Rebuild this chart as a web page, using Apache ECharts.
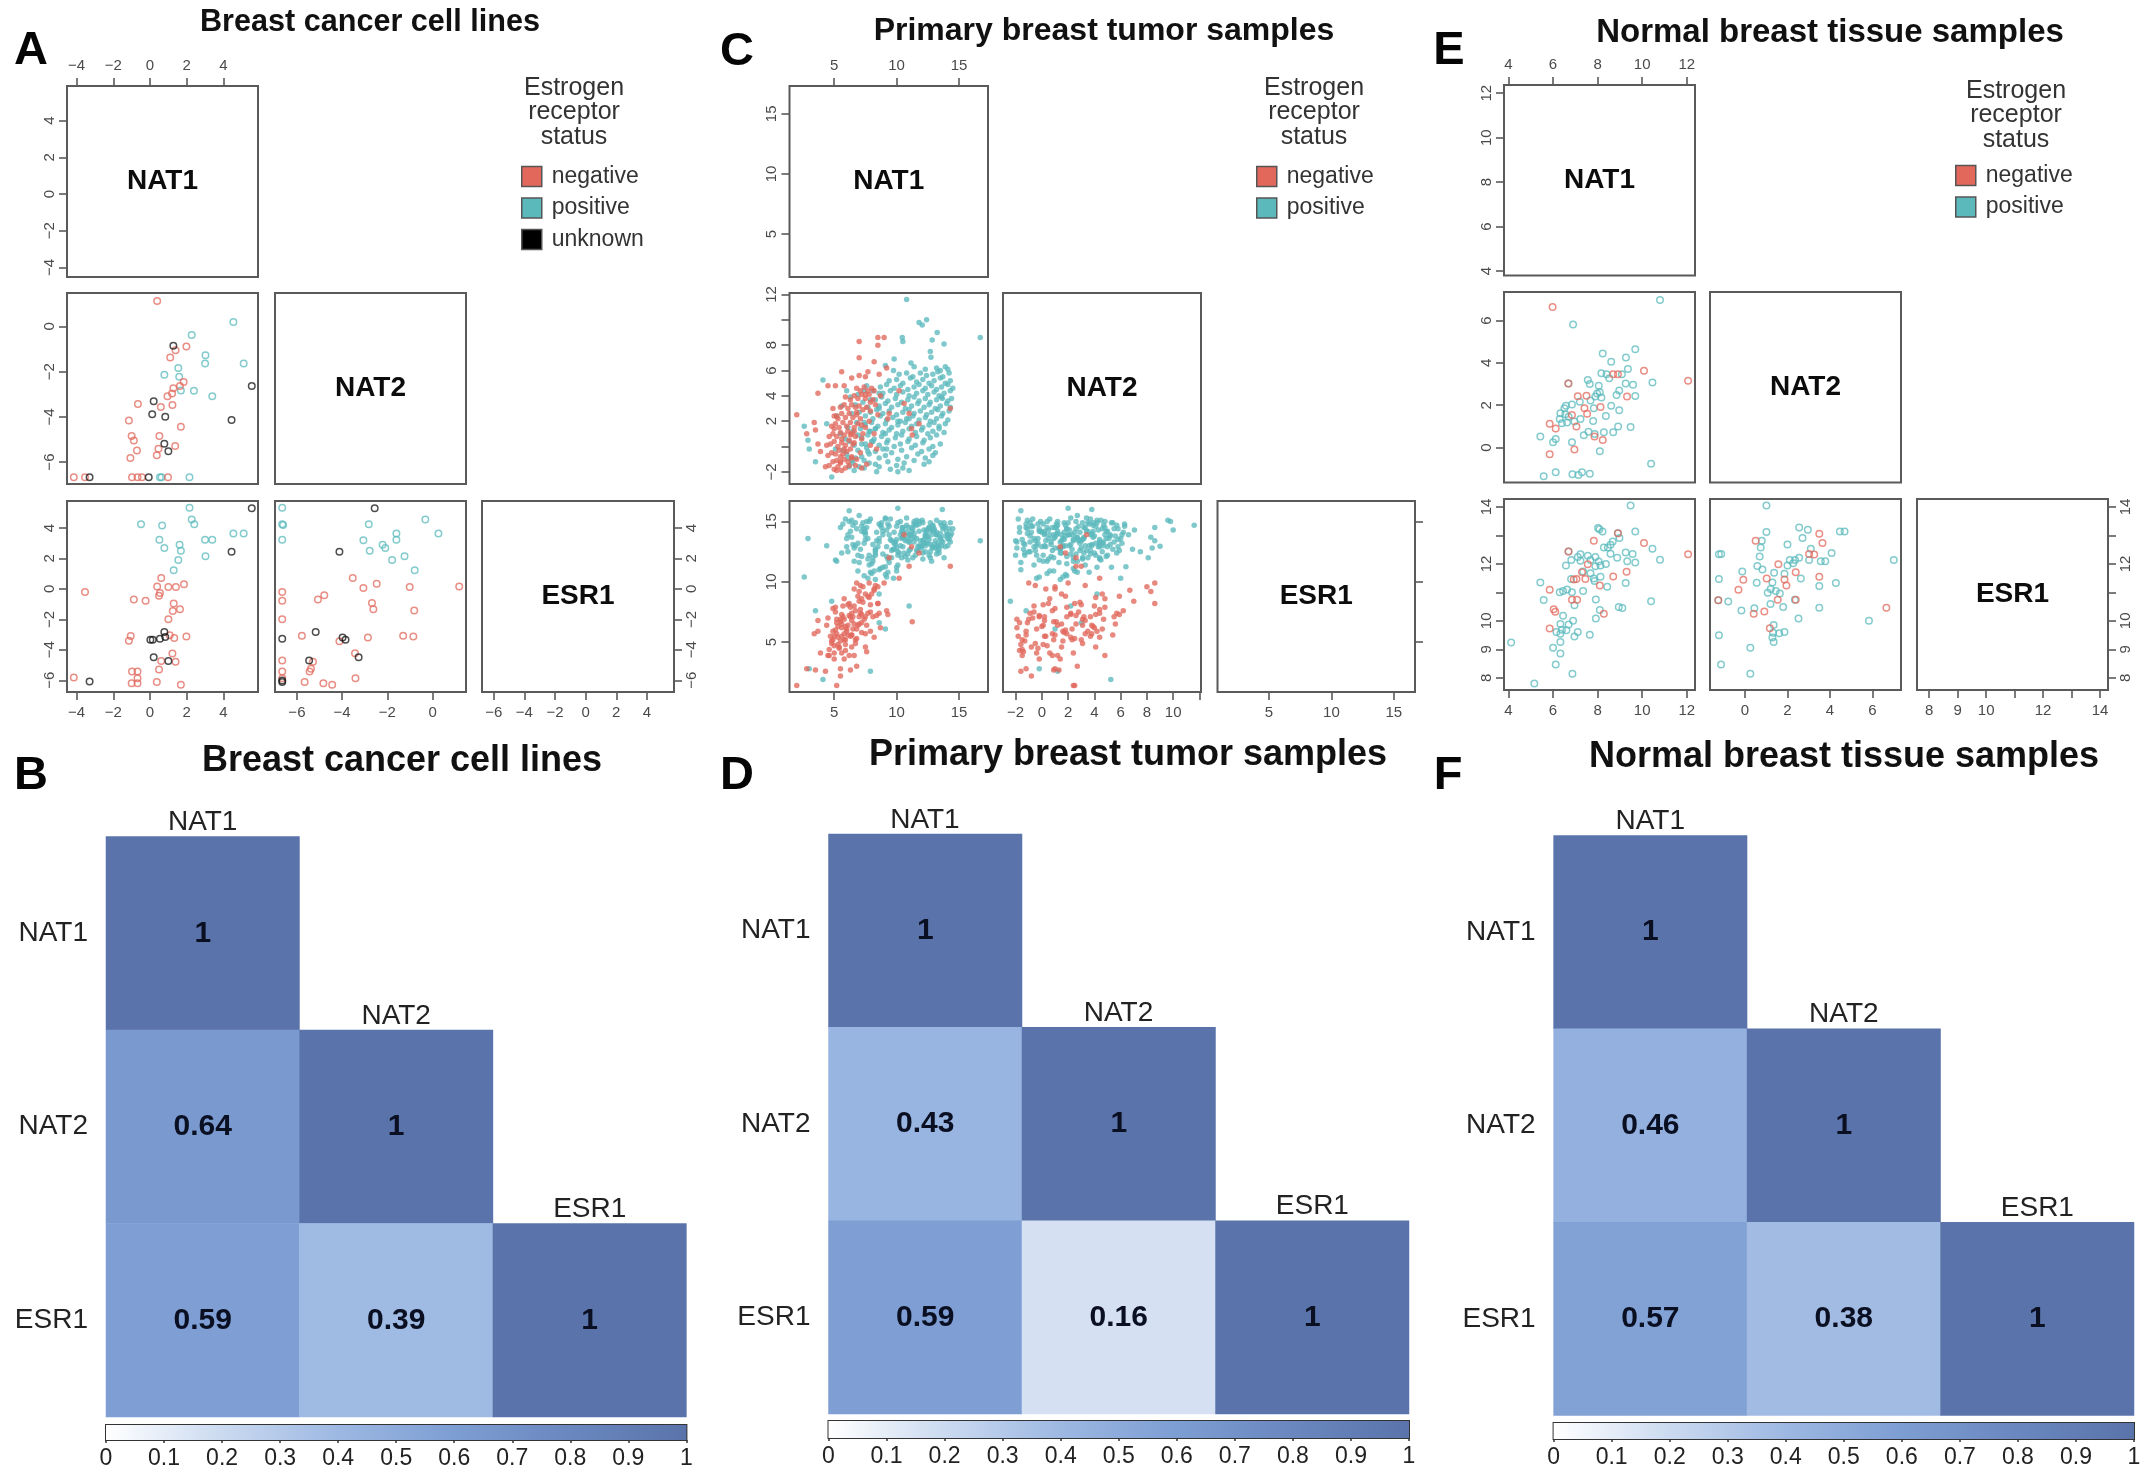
<!DOCTYPE html>
<html><head><meta charset="utf-8">
<style>html,body{margin:0;padding:0;background:#fff}#c{width:2150px;height:1481px}</style>
<script src="https://cdn.jsdelivr.net/npm/echarts@6/dist/echarts.min.js"></script>
</head><body><div id="c"></div>
<script>
// ---------- Panel A: cell lines, points read per scatter panel ----------
const A_NAT2_NAT1_neg=[[.39,1.13],[1.98,-.89],[1.39,-1.05],[1.1,-1.37],[1.83,-2.46],[1.63,-2.63],[1.27,-2.73],[1.2,-2.97],[.95,-3.09],[1.22,-3.47],[.59,-3.56],[-.66,-3.43],[-1.15,-4.16],[1.68,-4.44],[-1,-4.85],[-.88,-5.05],[.51,-4.85],[1.37,-5.29],[.46,-5.41],[-.71,-5.49],[.37,-5.7],[-1.07,-5.82],[-4.15,-6.67],[-3.54,-6.67],[-.98,-6.67],[-.68,-6.67],[-.44,-6.67],[.98,-6.67]];
const A_NAT2_NAT1_pos=[[4.54,.2],[2.27,-.38],[3.02,-1.27],[3,-1.64],[5.1,-1.64],[1.54,-1.84],[1.59,-2.22],[.78,-2.14],[1.68,-2.83],[2.39,-2.85],[3.39,-3.09],[.54,-6.67],[.63,-6.67],[2.15,-6.67]];
const A_NAT2_NAT1_unk=[[1.27,-.85],[5.54,-2.63],[.2,-3.31],[.12,-3.88],[.83,-4],[4.44,-4.14],[.78,-5.19],[1,-5.52],[-3.29,-6.67],[-.07,-6.67]];
const A_ESR1_NAT1_neg=[[.61,.72],[-3.54,-.21],[.39,.15],[1,.12],[1.41,.12],[1.85,.3],[.54,-.27],[.49,-.45],[-.88,-.69],[-.24,-.78],[1.29,-.96],[1.24,-1.45],[1.63,-1.33],[1,-1.99],[-1.05,-3.1],[-1.15,-3.4],[1.07,-3.04],[1.32,-3.22],[1.98,-3.13],[1.22,-4.25],[.61,-4.73],[1.39,-4.79],[.49,-5.3],[-.98,-5.42],[-.68,-5.42],[-.68,-5.87],[-4.15,-5.81],[-1,-6.2],[-.68,-6.2],[.37,-6.11],[1.68,-6.3]];
const A_ESR1_NAT1_pos=[[2.15,5.33],[2.27,4.55],[2.41,4.25],[-.49,4.25],[.66,4.16],[4.54,3.64],[5.1,3.64],[.51,3.22],[3,3.22],[3.39,3.22],[1.61,2.89],[1.68,2.5],[.78,2.68],[3.02,2.14],[1.54,1.9],[1.29,1.23]];
const A_ESR1_NAT1_unk=[[5.54,5.3],[4.44,2.44],[.78,-2.83],[.02,-3.34],[.15,-3.34],[.54,-3.28],[.83,-3.16],[.2,-4.49],[1,-4.73],[-3.29,-6.08]];
const A_ESR1_NAT2_neg=[[-3.53,.72],[-2.47,.33],[-3.06,.06],[-1.01,.12],[1.18,.15],[-6.65,-.21],[-6.65,-.78],[-4.79,-.42],[-5.07,-.69],[-2.68,-.93],[-2.62,-1.33],[-.81,-1.42],[-6.65,-1.99],[-5.78,-3.07],[-4.12,-3.43],[-2.86,-3.19],[-1.3,-3.07],[-.85,-3.13],[-3.43,-4.22],[-6.65,-4.7],[-5.29,-4.79],[-5.38,-5.24],[-5.44,-5.42],[-6.65,-5.42],[-6.65,-5.87],[-3.41,-5.87],[-5.66,-6.11],[-4.83,-6.2],[-4.44,-6.3]];
const A_ESR1_NAT2_pos=[[-6.65,5.33],[-6.65,4.25],[-6.61,4.19],[-6.65,3.22],[-2.82,4.25],[-.32,4.55],[.26,3.64],[-1.6,3.64],[-1.6,3.22],[-3.06,3.19],[-2.21,2.89],[-2.09,2.68],[-2.78,2.5],[-1.24,2.14],[-1.79,1.9],[-.79,1.23]];
const A_ESR1_NAT2_unk=[[-2.56,5.3],[-4.12,2.44],[-5.17,-2.83],[-6.65,-3.28],[-3.98,-3.19],[-3.85,-3.34],[-3.27,-4.49],[-5.46,-4.7],[-6.65,-6.11],[-6.65,-6.02]];

// ---------- Panel C: primary tumours, one row per sample [NAT1, NAT2, ESR1] ----------
const C_pos=[[16.7,8.6,13.4],[10.8,11.6,14.7],[11.8,9.8,15],[12.05,9.6,15.1],[12.4,10,14.3],[10.45,8.6,14.5],[10.5,8.3,13.7],[13.25,9,12.95],[12.85,8.4,12.8],[13.8,8.1,12],[12.7,7.5,12.5],[12.75,7.05,14.3],[9.8,6.9,12.7],[9.1,6.4,11.25],[9.75,6,10.3],[11.15,6.6,13.9],[2.9,.5,13.6],[4.4,1.8,13],[5.1,-.2,11.8],[2.6,1.6,10.4],[11,2.2,8],[8.6,4.2,9],[8.6,3,6.6],[9.1,1,6.1],[3.5,-1.2,7.6],[4.1,5.25,1.9],[7.9,1.2,2.6],[4.8,-2.4,8.4],[3,-.2,2.8],[6.2,-1.6,15.9],[10.1,2,16.1],[13.66,3.8,16],
[11.4,6.3,14.8],[12.3,6.1,13.2],[13.2,6.2,14.1],[13.5,6,13.6],[13.9,6.3,14.6],[14.1,6.1,13.9],
[10.2,5.7,12.4],[10.8,5.8,13.5],[11.3,5.5,14.4],[11.9,5.8,12.9],[12.4,5.6,13.8],[12.9,5.7,14.7],[13.3,5.9,12.6],[13.7,5.5,13.3],[14.2,5.8,14.4],
[9.4,5.2,13.9],[10,5.3,11.2],[10.5,5,14.2],[11.1,5.4,12.7],[11.6,5.1,13.6],[12.1,5.3,14.9],[12.6,5,12.2],[13,5.2,13.1],[13.5,5.4,14.9],[13.9,5,12.9],[14.3,5.2,13.8],
[8.7,4.7,14.7],[9.2,4.9,12.1],[9.8,4.6,13.2],[10.3,4.8,15],[10.9,4.5,11.8],[11.4,4.7,13.3],[11.8,4.9,14.2],[12.3,4.6,12.5],[12.8,4.8,13.9],[13.2,4.5,15.1],[13.6,4.7,13],[14.1,4.9,13.6],[14.5,4.6,14.4],
[8.9,4.2,11.2],[9.5,4.4,13.5],[10,4.1,14.6],[10.5,4.3,12.9],[11,4,13.8],[11.6,4.2,15.1],[12.1,4.4,11.9],[12.5,4.1,13.2],[13,4.3,14.3],[13.4,4,12.4],[13.8,4.2,14.9],[14.3,4.4,13.3],
[8.3,3.7,12.6],[8.8,3.9,14.9],[9.3,3.6,10.8],[9.9,3.8,13.1],[10.4,3.5,14.2],[10.9,3.7,12.3],[11.4,3.9,13.7],[11.8,3.6,14.8],[12.3,3.8,13],[12.7,3.5,12],[13.2,3.7,13.9],[13.6,3.9,14.7],[14.1,3.6,13],[14.4,3.8,14],
[8.6,3.2,13.6],[9.1,3.4,15.3],[9.6,3.1,12],[10.1,3.3,11.4],[10.7,3,13.4],[11.2,3.2,14.5],[11.7,3.4,12.6],[12.2,3.1,13.5],[12.6,3.3,14.5],[13.1,3,12.8],[13.5,3.2,13.7],[14,3.4,14.2],[14.3,3.1,14.9],
[7.9,2.7,10.8],[8.4,2.9,14.1],[8.9,2.6,12.3],[9.4,2.8,14.6],[10,2.5,10.9],[10.5,2.7,13.7],[11,2.9,12.6],[11.4,2.6,15],[11.9,2.8,13.4],[12.4,2.5,14.1],[12.8,2.7,11.7],[13.3,2.9,13.2],[13.7,2.6,14.4],[14.2,2.8,13.5],
[8.1,2.2,13.1],[8.7,2.4,11.1],[9.2,2.1,14.3],[9.7,2.3,12.7],[10.3,2,13.9],[10.8,2.2,15.3],[11.3,2.4,12],[11.8,2.1,13],[12.3,2.3,13.9],[12.7,2,14.9],[13.2,2.2,12.3],[13.6,2.4,13.4],[14.1,2.1,13.9],
[7.5,1.7,14.1],[8,1.9,11.5],[8.5,1.6,12.9],[9.1,1.8,10.6],[9.6,1.5,13.4],[10.1,1.7,14.9],[10.7,1.9,12.1],[11.2,1.6,13.6],[11.6,1.8,14.7],[12.1,1.5,12.4],[12.6,1.7,13.5],[13,1.9,14.4],[13.4,1.6,13],[13.9,1.8,13.8],
[7.8,1.2,15],[8.3,1.4,12.4],[8.9,1.1,13.9],[9.4,1.3,11.6],[10,1,12.8],[10.5,1.2,14],[11,1.4,13.3],[11.5,1.1,14.8],[12,1.3,12.8],[12.5,1,13.7],[12.9,1.2,14.2],[13.4,1.4,12.7],[13.8,1.1,14.5],
[7.2,.7,12.1],[7.7,.9,13.6],[8.2,.6,10.9],[8.8,.8,14.5],[9.3,.5,11.9],[9.9,.7,13.3],[10.4,.9,12],[11,.6,13.9],[11.6,.8,12.6],[12.2,.5,14.3],[12.7,.7,13.1],[13.2,.9,13.9],
[7.5,.2,13.9],[8.1,.4,11.7],[8.6,.1,14.8],[9.2,.3,12.9],[9.8,0,14.1],[10.3,.2,13],[10.9,.4,14.5],[11.5,.1,12.2],[12.1,.3,13.4],[12.9,0,12.9],[13.5,.2,14],
[6.9,-.3,13.2],[7.6,-.1,15],[8.3,-.4,12.2],[8.9,-.2,14.2],[9.6,-.5,12.6],[10.4,-.3,13.6],[11.2,-.1,14.2],[12,-.4,13],[12.6,-.2,14.4],[13.1,-.5,13.4],
[7.2,-.8,14.6],[7.8,-.6,11.4],[8.6,-.9,13.3],[9.1,-.7,15.2],[10.1,-1,12.5],[10.8,-.8,14.1],[11.7,-.6,12.9],[12.3,-.9,13.8],[12.9,-.7,14.6],
[6.5,-1.3,13.1],[7.4,-1.1,14.4],[8.3,-1.4,12.7],[9.3,-1.2,14.8],[10,-1.5,13.5],[10.6,-1.3,12.4],[11.4,-1.1,14],[12.2,-1.4,13.2],[12.6,-1.2,14.5],
[6.6,-1.9,12.8],[7.4,-1.7,14.1],[8.4,-2,13.4],[9.5,-1.8,15.2],[10.1,-2,12.2],[10.5,-1.7,14.5],[11,-1.9,13.3],
[6.2,.4,15],[6.5,1.2,14.7],[6.8,1.9,14.4],[7,2.7,15.5],[7.2,.2,14.2],[6.4,2.6,13.7],[6.7,3.3,13],[7.3,3.5,14.9],[7.5,2.4,13.5],[6.1,1.5,13.9],[7.1,1.4,12.7],[6.9,4.1,12.2],[7.4,4.4,13.2],[7.7,3.1,11.9],[6.3,3.9,14.2],[7.6,4.8,14.5],[7.9,3.7,15.2],[8.1,4.4,12],[6.6,.1,11.7],[6.9,.9,10.9],[7.4,1.9,10.5],[7.7,-.4,10.3],[8,.4,10.7],[8.3,1.4,10.2],[6.7,-.9,14.9],[6,-.6,13.6],[6.4,-1.1,15.1],[5.7,-.3,14.8],[5.9,.6,15.2],[5.5,1,14.5],[6.1,-.9,12.5],[7,-1.6,11.6],[7.8,-1.3,12.2],[8.6,-1.6,11],[9.2,-.2,10.4],[5.2,2.4,11.7],[5.6,3.2,12.4],[6,4.4,12.9]];
const C_neg=[[2,2.5,1.4],[7,8.3,9.2],[8.5,8.6,8.2],[8.5,8,9.6],[7,7,8.4],[8.2,6.7,9.3],[5.6,5.9,7.3],[3.7,4.2,5.9],[4.5,4.8,3.9],[5.1,4.8,7.9],[5.8,4.8,8.6],[3.4,1.9,5.7],[2.8,1,2.8],[3.5,1.3,2.7],[3.7,.2,6.8],[3.9,-.4,4.1],
[11.25,.9,6.7],[14.3,3,11.3],[9.2,6.2,7.6],[8.6,5.7,7.4],[9,8.6,9.9],[8.2,4.4,5.4],[7.5,4.1,4.6],[4.3,-1.6,2.6],[5.5,-1.2,2.8],[5.5,-.8,2.2],[6.3,.9,2.7],[6.8,2.7,3],[5.2,2.4,1.4],
[5,-1.8,5.5],[5.3,-1.6,4.8],[5.6,-1.9,6.2],[5.9,-1.7,4.3],[6.2,-1.5,3.9],[4.6,-1.5,4.4],[4.9,-1.2,5.9],[5.2,-1.1,6.6],[5.5,-1.3,5.1],[5.8,-1,6.9],[6.1,-1.2,5.6],[6.4,-.9,7.4],[4.5,-.7,7],[4.8,-.5,4.9],[5.1,-.6,7.5],[5.4,-.3,4.5],[5.7,-.6,8],[6,-.4,6.1],[6.3,-.2,7.1],[6.7,-1.5,5.2],[7.2,-1.7,6.6],[7.6,-1.4,4.2],
[4.4,.1,6.4],[4.7,.2,5.5],[5,.4,4.7],[5.3,0,6.3],[5.6,.3,5.5],[5.9,.1,4.8],[6.2,.5,8.2],[6.5,.2,7.1],[4.6,.8,3.9],[4.9,1,7.8],[5.2,.8,5.7],[5.5,1.1,6.7],[5.8,.9,5.2],[6.1,1.2,6.4],[6.4,1,5.6],[6.7,.8,7.6],
[4.8,1.6,5.1],[5.1,1.8,6],[5.4,1.5,4.6],[5.7,1.9,7.1],[6,1.6,5.9],[6.3,1.9,7.9],[6.6,1.5,6.5],[6.9,1.8,8.8],[5,2.4,4.1],[5.3,2.2,5.4],[5.6,2.6,6.5],[5.9,2.3,5.2],[6.2,2.6,7.2],[6.5,2.3,6.1],[6.8,2.5,5.3],[7.1,2.2,7.4],[4.9,3,5.2],
[5.5,3.1,6.9],[5.8,3.3,5.7],[6.1,3,8.1],[6.4,3.3,6.8],[6.7,3.1,4.9],[7,3.2,7.1],[7.3,2.9,8.3],[7.6,3.1,6.4],[7.9,2.8,7.5],[5.9,3.9,6.3],[6.3,3.7,5.5],[6.6,4,8],[6.9,3.8,6.4],[7.2,4.1,7.3],[7.5,3.8,5.7],[7.8,4.1,8.7],[8.1,3.7,7.1],[6.8,4.6,6.1],[7.1,4.4,7.7],[7.4,4.7,6.9],[7.7,4.4,7.4],[8,4.6,9],[6.4,5.4,5.6],[7,5.6,6.5],[7.5,5.5,7.1],[7.7,5.9,8.8],[8.3,3.3,9.7],[8.5,2.5,8.2],[7.5,1.5,9],[7.2,.6,8.6],[7.8,2,9.9],[7.1,-.5,9.7],[6.8,-1,9.9],[6.6,.3,9.4],[7.3,1,9.6],[7.9,.1,8.1],[8.2,1,9.4],[8.4,-.2,7.2],[5.2,-1.9,6.9],[5.8,-.2,3.6],[6.4,-.8,4.6],[5,1.4,3.6],[6.6,1.2,3.9],[5.6,.6,4.1],[7.2,1.7,5.8],[7.9,3.5,5.9],[8.7,4,6.2],[9.3,2.2,7.3],[10.2,4.4,10.3],[11.2,1.4,12.9],[11.8,1.8,12.4],[11,2.6,11.3],[10.6,3.4,13.9],[9.4,2.6,12]];

// ---------- Panel E: normal tissue, points read per scatter panel ----------
const E_NAT2_NAT1_neg=[[5.98,6.64],[5.85,1.13],[6.12,.9],[5.85,-.31],[6.96,-.09],[6.69,3.03],[7.11,2.42],[7.5,2.45],[7.41,1.86],[7.53,1.6],[8.13,1.92],[7.05,.99],[6.85,1.54],[7.86,.52],[8.23,.36],[8.7,3.47],[8.91,3.47],[10.08,3.63],[12.06,3.16],[9.32,2.41]];
const E_NAT2_NAT1_pos=[[10.8,6.97],[6.9,5.82],[9.69,4.65],[8.23,4.45],[9.27,4.25],[8.61,4.06],[9.36,3.71],[8.17,3.51],[8.4,3.47],[9.09,3.47],[7.56,3.19],[7.65,3],[6.69,3.03],[8.52,3.27],[9.26,3.03],[9.59,2.97],[10.46,3.08],[8.05,2.92],[8.97,2.7],[8.85,2.48],[9.69,2.44],[7.98,2.56],[8.1,2.61],[7.9,2.41],[8.17,2.37],[7.2,2.17],[7.68,2.22],[6.85,2.04],[6.58,1.98],[6.51,1.86],[6.33,1.62],[6.55,1.57],[6.3,1.35],[6.7,1.46],[6.4,1.15],[6.63,1.19],[6.96,1.23],[7.23,1.35],[8.61,1.98],[8.97,1.76],[8.37,1.49],[7.8,1.26],[5.43,.52],[6.12,.41],[6,.25],[6.85,.25],[7.38,.58],[7.59,.75],[8.28,.72],[8.7,.72],[8.92,1],[9.48,.97],[8.1,-.17],[10.4,-.77],[6.12,-1.16],[5.58,-1.35],[6.87,-1.26],[7.14,-1.29],[7.3,-1.16],[7.65,-1.24],[7.87,.64],[7.83,1.86]];
const E_ESR1_NAT1_neg=[[7.83,12.81],[10.08,12.73],[12.06,12.34],[6.69,12.44],[7.56,11.99],[9.3,11.72],[8.7,11.56],[7.45,11.47],[7.05,11.47],[6.93,11.45],[8.1,11.24],[5.85,11.09],[6.85,10.74],[7.08,10.74],[6.03,10.41],[6.1,10.32],[8.28,10.25],[5.85,9.73],[7.3,11.71],[8.91,13.08]];
const E_ESR1_NAT1_pos=[[9.48,14.05],[8.02,13.26],[8.08,13.22],[8.22,13.14],[9.69,13.14],[8.68,12.79],[8.58,12.67],[8.91,13.08],[8.98,12.91],[8.28,12.58],[8.46,12.58],[10.46,12.53],[8.58,12.36],[8.88,12.22],[9.26,12.4],[9.57,12.35],[9.33,12.09],[9.69,12.05],[10.8,12.15],[7.23,12.34],[7.11,12.24],[6.82,12.14],[6.58,11.94],[7.56,12.29],[7.9,12.24],[7.68,12.14],[8.05,12.08],[8.37,12],[8.13,11.94],[7.9,11.92],[7.23,12.11],[6.7,12.44],[7.35,11.73],[7.68,11.67],[8.13,11.55],[7.83,11.49],[6.81,11.47],[5.43,11.35],[8.43,11.2],[9.26,11.33],[7.86,11.4],[6.3,11],[6.45,11.05],[6.63,11.1],[6.85,11],[7.35,11.05],[5.58,10.73],[7.92,10.75],[6.96,10.55],[8.95,10.49],[9.11,10.45],[10.4,10.69],[8.1,10.38],[6.45,10.18],[7.92,10.08],[6.33,9.89],[6.9,10],[6.7,9.87],[6.4,9.69],[6.15,9.61],[6.6,9.67],[6.33,9.55],[7.11,9.61],[6.96,9.45],[7.65,9.51],[6.33,9.26],[6,9.05],[6.33,8.85],[4.12,9.24],[6.12,8.47],[6.87,8.14],[5.16,7.8]];
const E_ESR1_NAT2_neg=[[.5,12.81],[3.5,13.06],[3.65,12.73],[3.02,12.35],[3.26,12.33],[1.57,11.99],[2.39,11.71],[3.5,11.55],[1.02,11.49],[-.08,11.44],[1.86,11.45],[1.95,11.24],[-.31,11.09],[1.54,10.74],[2.39,10.74],[-1.26,10.72],[.91,10.33],[.41,10.25],[6.66,10.46],[1.17,9.74]];
const E_ESR1_NAT2_pos=[[1.01,14.05],[1.01,13.12],[2.55,13.28],[2.96,13.2],[2.71,12.91],[4.47,13.14],[4.69,13.14],[.79,12.81],[.74,12.58],[2,12.68],[.69,12.26],[-1.23,12.34],[-1.12,12.35],[4.08,12.38],[3.1,12.53],[3.02,12.14],[3.57,12.09],[3.78,12.09],[7.01,12.14],[2.55,12.22],[2.36,12.14],[2.11,12.14],[2.27,12.02],[.58,11.93],[.82,11.8],[2,11.94],[1.37,11.69],[1.86,11.65],[2.63,11.49],[-.13,11.73],[-1.23,11.47],[.55,11.34],[1.29,11.35],[4.28,11.33],[3.5,11.22],[1.21,11.12],[1.07,10.99],[1.45,11.05],[1.64,10.96],[-.79,10.68],[-1.26,10.72],[2.35,10.74],[1.2,10.59],[1.8,10.49],[3.5,10.46],[.44,10.44],[-.17,10.36],[2.52,10.08],[5.84,10],[1.35,9.85],[1.32,9.58],[1.61,9.56],[1.86,9.61],[1.29,9.41],[1.35,9.26],[-1.23,9.49],[.25,9.05],[-1.13,8.47],[.25,8.14]];

// ---------- Heatmaps ----------
const genes=['NAT1','NAT2','ESR1'];
const B_corr=[1,.64,1,.59,.39,1];
const D_corr=[1,.43,1,.59,.16,1];
const F_corr=[1,.46,1,.57,.38,1];
const colorbarTicks=[0,.1,.2,.3,.4,.5,.6,.7,.8,.9,1];
const colorRamp=['#ffffff','#cbdaf0','#9db8e2','#7d9ed3','#6a87bf','#5a74ab'];

// ---------- Axis ranges and ticks ----------
const A_ranges=[[-4.52,5.88],[-6.97,1.48],[-6.77,5.77]];
const C_ranges=[[1.42,17.32],[-2.96,12.12],[.87,16.7]];
const E_ranges=[[3.8,12.37],[-1.65,7.35],[7.57,14.28]];
const A_ticks=[[-4,-2,0,2,4],[-6,-4,-2,0],[-6,-4,-2,0,2,4]];
const C_ticks=[[5,10,15],[-2,0,2,4,6,8,10,12],[5,10,15]];
const C_xLabels=[[5,10,15],[-2,0,2,4,6,8,10],[5,10,15]];
const C_yLabels=[[5,10,15],[-2,2,4,6,8,12],[5,10,15]];
const E_ticks=[[4,6,8,10,12],[0,2,4,6],[8,9,10,11,12,13,14]];
const E_labels=[[4,6,8,10,12],[0,2,4,6],[8,9,10,12,14]];

// ---------- Layout ----------
const FONT='"Liberation Sans",Arial,sans-serif';
const NEG='#e2685c',POS='#5bb9bc',UNK='#111111';
const AXC='#5a5a5a',TICKTXT='#4a4a4a';
const idx=(a,i,j)=>a.map(s=>[s[i],s[j]]);
const figures=[
 {cols:[[67,258],[275,466],[482,674]],rows:[[86,277],[293,484],[501,692]],ranges:A_ranges,tx:A_ticks,xl:A_ticks,yl:A_ticks,rightLabels:true,hollow:true,
  data:{'1,0':[['positive',A_NAT2_NAT1_pos],['negative',A_NAT2_NAT1_neg],['unknown',A_NAT2_NAT1_unk]],
        '2,0':[['positive',A_ESR1_NAT1_pos],['negative',A_ESR1_NAT1_neg],['unknown',A_ESR1_NAT1_unk]],
        '2,1':[['positive',A_ESR1_NAT2_pos],['negative',A_ESR1_NAT2_neg],['unknown',A_ESR1_NAT2_unk]]}},
 {cols:[[789.5,988],[1003,1201],[1217.5,1415]],rows:[[86,277],[293,484],[501,692]],ranges:C_ranges,tx:C_ticks,xl:C_xLabels,yl:C_yLabels,rightLabels:false,hollow:false,
  data:{'1,0':[['positive',idx(C_pos,0,1)],['negative',idx(C_neg,0,1)]],
        '2,0':[['positive',idx(C_pos,0,2)],['negative',idx(C_neg,0,2)]],
        '2,1':[['positive',idx(C_pos,1,2)],['negative',idx(C_neg,1,2)]]}},
 {cols:[[1504,1695],[1710,1901],[1917,2108]],rows:[[85,275.5],[292,482.5],[499,690]],ranges:E_ranges,tx:E_ticks,xl:E_labels,yl:E_labels,rightLabels:true,hollow:true,
  data:{'1,0':[['positive',E_NAT2_NAT1_pos],['negative',E_NAT2_NAT1_neg]],
        '2,0':[['positive',E_ESR1_NAT1_pos],['negative',E_ESR1_NAT1_neg]],
        '2,1':[['positive',E_ESR1_NAT2_pos],['negative',E_ESR1_NAT2_neg]]}}
];
const heats=[
 {x:[106,299.4,493,686.4],y:[836.5,1030,1223,1417],bar:[1425,1440],corr:B_corr},
 {x:[828.5,1021.4,1215.7,1409],y:[834,1027,1220.5,1414],bar:[1421,1438],corr:D_corr},
 {x:[1553.6,1747,1940.7,2134],y:[835.5,1028.7,1222.4,1415.6],bar:[1423,1439],corr:F_corr}
];
const grid=[],xAxis=[],yAxis=[],series=[],graphic=[];
const minus=v=>String(v).replace('-','\u2212');
function txt(text,x,y,size,weight,fill,align){
 graphic.push({type:'text',silent:true,x:x,y:y,style:{text:text,fontFamily:FONT,fontSize:size,fontWeight:weight||'normal',fill:fill||'#111',align:align||'center',verticalAlign:'middle'}});
}
function axis(kind,pos,g,range,ticks,labels,showLabel){
 const isY=kind==='y';
 return {type:'value',gridIndex:g,position:pos,min:range[0],max:range[1],scale:true,splitLine:{show:false},
  axisLine:{show:false,onZero:false},
  axisTick:{show:true,length:8,customValues:ticks,lineStyle:{color:AXC,width:1.6}},
  axisLabel:{show:showLabel,customValues:labels,rotate:isY?90:0,margin:isY?10:13,fontSize:15,color:TICKTXT,fontFamily:FONT,hideOverlap:false,formatter:minus}};
}
function hiddenAxis(pos,g,range){return {type:'value',gridIndex:g,position:pos,min:range[0],max:range[1],show:false};}
figures.forEach(f=>{
 for(let r=0;r<3;r++)for(let c=0;c<=r;c++){
  const g=grid.length;
  grid.push({left:f.cols[c][0],top:f.rows[r][0],width:f.cols[c][1]-f.cols[c][0],height:f.rows[r][1]-f.rows[r][0],show:true,borderColor:AXC,borderWidth:2,backgroundColor:'#fff',containLabel:false});
  const xi=xAxis.length,yi=yAxis.length;
  // primary x axis
  if(r===2)xAxis.push(axis('x','bottom',g,f.ranges[c],f.tx[c],f.xl[c],true));
  else if(r===0)xAxis.push(axis('x','top',g,f.ranges[c],f.tx[c],f.xl[c],true));
  else xAxis.push(hiddenAxis('bottom',g,f.ranges[c]));
  // primary y axis
  if(c===0)yAxis.push(axis('y','left',g,f.ranges[r],f.tx[r],f.yl[r],true));
  else if(r===2&&c===2)yAxis.push(axis('y','right',g,f.ranges[r],f.tx[r],f.yl[r],f.rightLabels));
  else yAxis.push(hiddenAxis('left',g,f.ranges[r]));
  const list=f.data[r+','+c];
  if(list)list.forEach(([name,pts])=>{
   const col=name==='negative'?NEG:name==='positive'?POS:UNK;
   series.push({type:'scatter',name:name,xAxisIndex:xi,yAxisIndex:yi,data:pts,silent:true,animation:false,
    symbol:'circle',symbolSize:f.hollow?6.5:5.5,
    itemStyle:f.hollow?{color:'rgba(255,255,255,0)',borderColor:col,borderWidth:1.5,opacity:name==='unknown'?.75:.75}:{color:col,opacity:.78,borderWidth:0}});
  });
  if(r===c)txt(genes[r],(f.cols[c][0]+f.cols[c][1])/2,(f.rows[r][0]+f.rows[r][1])/2,28,'bold','#0c0c0c');
 }
});
const stops=colorRamp.map((c,i)=>({offset:i/(colorRamp.length-1),color:c}));
const heatSeries=[];
heats.forEach(h=>{
 const g=grid.length;
 grid.push({left:h.x[0],top:h.y[0],width:h.x[3]-h.x[0],height:h.y[3]-h.y[0],containLabel:false});
 const xi=xAxis.length,yi=yAxis.length;
 xAxis.push({type:'category',gridIndex:g,data:genes,show:false});
 yAxis.push({type:'category',gridIndex:g,data:genes,inverse:true,axisLine:{show:false},axisTick:{show:false},splitLine:{show:false},
   axisLabel:{fontSize:28,color:'#222',fontFamily:FONT,margin:18}});
 const cells=[];let k=0;
 for(let r=0;r<3;r++)for(let c=0;c<=r;c++)cells.push([c,r,h.corr[k++]]);
 heatSeries.push(series.length);
 series.push({type:'heatmap',xAxisIndex:xi,yAxisIndex:yi,data:cells,silent:true,animation:false,
   label:{show:true,fontSize:30,fontWeight:'bold',color:'#0a0f22',fontFamily:FONT,formatter:p=>String(p.value[2])}});
 genes.forEach((n,i)=>txt(n,(h.x[i]+h.x[i+1])/2,h.y[i]-14,28,'normal','#222'));
 // colour bar
 const bg=grid.length;
 grid.push({left:h.x[0],top:h.bar[0],width:h.x[3]-h.x[0],height:h.bar[1]-h.bar[0],show:true,borderColor:'#333',borderWidth:2,containLabel:false});
 const bx=xAxis.length,by=yAxis.length;
 xAxis.push({type:'value',gridIndex:bg,min:0,max:1,interval:.1,position:'bottom',splitLine:{show:false},axisLine:{show:false},
   axisTick:{show:true,length:3,lineStyle:{color:'#333',width:1.5}},
   axisLabel:{fontSize:23,color:'#222',fontFamily:FONT,margin:7,showMinLabel:true,showMaxLabel:true,hideOverlap:false,customValues:colorbarTicks}});
 yAxis.push({type:'value',gridIndex:bg,min:0,max:1,show:false});
 series.push({type:'custom',xAxisIndex:bx,yAxisIndex:by,data:[[0,1]],silent:true,animation:false,
  renderItem:(p,api)=>{const a=api.coord([api.value(0),0]),b=api.coord([api.value(1),1]);
   return {type:'rect',shape:{x:a[0],y:b[1],width:b[0]-a[0],height:a[1]-b[1]},
    style:{fill:new echarts.graphic.LinearGradient(0,0,1,0,stops)}};}});
});

// ---------- Text ----------
[['A',31,51],['B',31,776],['C',737,52],['D',737,776],['E',1449,51],['F',1448,776]].forEach(l=>txt(l[0],l[1],l[2],47,'bold','#050505'));
[['Breast cancer cell lines',370,23,30.6],['Primary breast tumor samples',1104,31,32],['Normal breast tissue samples',1830,33,33],
 ['Breast cancer cell lines',402,761,36],['Primary breast tumor samples',1128,755,36],['Normal breast tissue samples',1844,757,36]].forEach(t=>txt(t[0],t[1],t[2],t[3],'bold','#111'));
[[574,88],[1314,88],[2016,91]].forEach(p=>{['Estrogen','receptor','status'].forEach((s,i)=>txt(s,p[0],p[1]+i*24.5,25,'normal','#333'));});

const leg=(name,col)=>({name:name,icon:'rect',itemStyle:{color:col,borderColor:'#555',borderWidth:1.5,opacity:1}});
const legendBase={orient:'vertical',itemWidth:20,itemHeight:20,itemGap:8.5,selectedMode:false,padding:0,textStyle:{fontSize:23,color:'#333',fontFamily:FONT,padding:[0,0,0,5]}};
const legend=[
 Object.assign({},legendBase,{left:521,top:165,data:[leg('negative','#e2685c'),leg('positive','#5bb9bc'),leg('unknown','#000')]}),
 Object.assign({},legendBase,{left:1256,top:165,data:[leg('negative','#e2685c'),leg('positive','#5bb9bc')]}),
 Object.assign({},legendBase,{left:1955,top:164,data:[leg('negative','#e2685c'),leg('positive','#5bb9bc')]})
];

const chart=echarts.init(document.getElementById('c'),null,{renderer:'canvas',width:2150,height:1481});
chart.setOption({backgroundColor:'#fff',animation:false,grid,xAxis,yAxis,series,legend,graphic:{elements:graphic},
 visualMap:{show:false,type:'continuous',min:0,max:1,dimension:2,seriesIndex:heatSeries,inRange:{color:colorRamp}}});
</script></body></html>
